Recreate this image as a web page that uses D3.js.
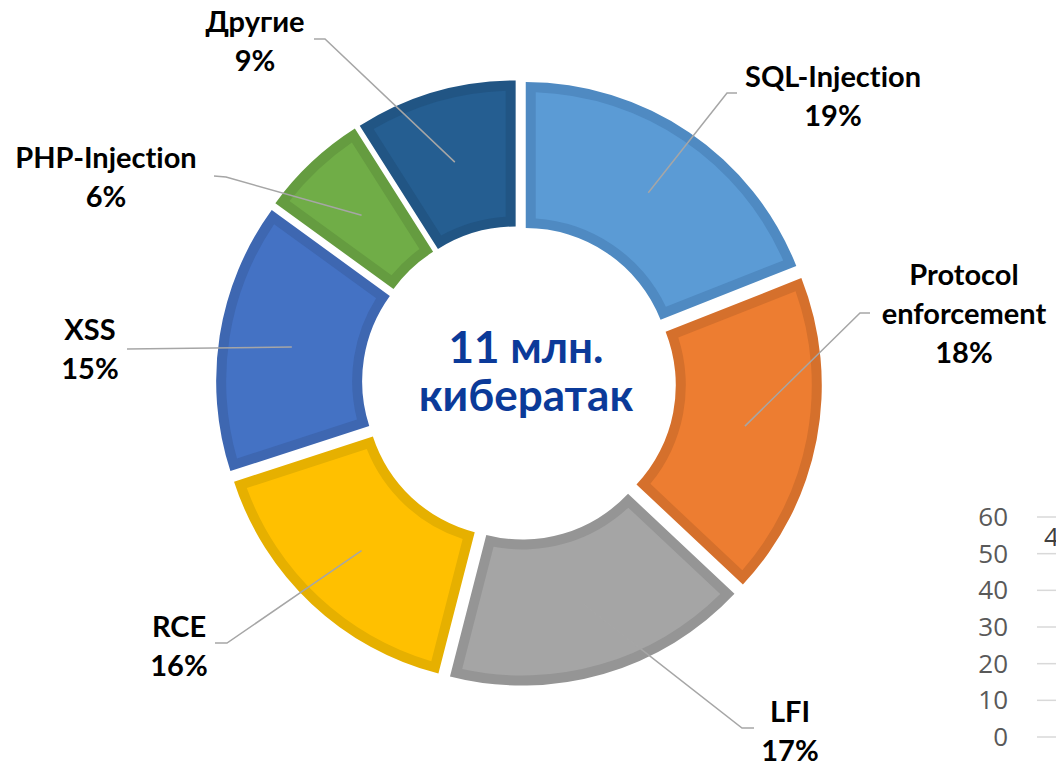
<!DOCTYPE html>
<html>
<head>
<meta charset="utf-8">
<script src="https://cdnjs.cloudflare.com/ajax/libs/d3/7.8.5/d3.min.js"></script>
<style>
  html, body { margin: 0; padding: 0; background: #fff; overflow: hidden; }
  svg { display: block; }
  text { font-variant-ligatures: none; }
  .lbl { font-family: Lato, "Open Sans", sans-serif; font-weight: bold; font-size: 29px; fill: #000; }
  .tick-lbl { font-family: "Open Sans", sans-serif; font-size: 26px; fill: #595959; }
</style>
</head>
<body>
<svg id="chart" width="1056" height="767"></svg>
<script>
// data, clockwise from 12 o'clock
const categories = ["SQL-Injection", "Protocol enforcement", "LFI", "RCE", "XSS", "PHP-Injection", "Другие"];
const shares = [19, 18, 17, 16, 15, 6, 9];
const fill_colors = ["#5B9BD5", "#ED7D31", "#A5A5A5", "#FFC000", "#4472C4", "#70AD47", "#255E91"];
const border_colors = ["#4F8AC2", "#D5702C", "#959595", "#E6B000", "#3E67B1", "#659C40", "#215584"];
const center_lines = ["11 млн.", "кибератак"];

// the partially visible neighbour chart on the right
const side_ticks = [0, 10, 20, 30, 40, 50, 60];

// label layout: text lines, text centre, leader elbow and leader end
const label_layout = [
  { lines: ["SQL-Injection", "19%"], x: 833, y: 77, elbow: [727, 93], end: [737, 93] },
  { lines: ["Protocol", "enforcement", "18%"], x: 964, y: 275, elbow: [860, 313], end: [870, 313] },
  { lines: ["LFI", "17%"], x: 790, y: 712, elbow: [742, 728], end: [754, 728] },
  { lines: ["RCE", "16%"], x: 179, y: 627, elbow: [227, 643], end: [215, 643] },
  { lines: ["XSS", "15%"], x: 90, y: 330, elbow: [127, 349], end: [127, 349] },
  { lines: ["PHP-Injection", "6%"], x: 106, y: 158, elbow: [226, 177], end: [214, 176] },
  { lines: ["Другие", "9%"], x: 255, y: 22, elbow: [325, 39], end: [314, 39] }
];

const CX = 519, CY = 383;
const R_OUT = 291, R_IN = 145, EXPLODE = 12, BORDER = 10;

let svg = d3.select("#chart");

let pie = d3.pie().sort(null).value(d => d)(shares);

let arc_outer = d3.arc().innerRadius(R_IN).outerRadius(R_OUT);
let arc_inner = d3.arc()
  .innerRadius(R_IN + BORDER)
  .outerRadius(R_OUT - BORDER)
  .padRadius(100)
  .padAngle(2 * BORDER / 100);

let donut = svg.append("g").attr("transform", `translate(${CX},${CY})`);

let slices = donut.selectAll("g.slice")
  .data(pie)
  .enter()
  .append("g")
  .attr("class", "slice")
  .attr("transform", (d) => {
    let a = (d.startAngle + d.endAngle) / 2;
    return `translate(${Math.sin(a) * EXPLODE},${-Math.cos(a) * EXPLODE})`;
  });

slices.append("path")
  .attr("d", arc_outer)
  .style("fill", (d, i) => border_colors[i]);

slices.append("path")
  .attr("d", arc_inner)
  .style("fill", (d, i) => fill_colors[i]);

// leader lines
let leaders = svg.append("g");
pie.forEach((d, i) => {
  let a = (d.startAngle + d.endAngle) / 2;
  let c = arc_outer.centroid(d);
  let sx = CX + c[0] + Math.sin(a) * EXPLODE;
  let sy = CY + c[1] - Math.cos(a) * EXPLODE;
  let lay = label_layout[i];
  leaders.append("polyline")
    .attr("points", `${sx},${sy} ${lay.elbow[0]},${lay.elbow[1]} ${lay.end[0]},${lay.end[1]}`)
    .style("fill", "none")
    .style("stroke", "#A6A6A6")
    .style("stroke-width", 1.5);
});

// labels
label_layout.forEach((lay) => {
  let t = svg.append("text")
    .attr("class", "lbl")
    .attr("text-anchor", "middle")
    .attr("x", lay.x)
    .attr("y", lay.y);
  lay.lines.forEach((line, k) => {
    t.append("tspan")
      .attr("x", lay.x)
      .attr("dy", k === 0 ? "0.35em" : 39)
      .text(line);
  });
});

// centre caption
let ct = svg.append("text")
  .attr("text-anchor", "middle")
  .style("font-family", "Lato, 'Open Sans', sans-serif")
  .style("font-weight", "bold")
  .style("font-size", "44px")
  .style("fill", "#0B3A99");
center_lines.forEach((line, k) => {
  ct.append("tspan")
    .attr("x", 526)
    .attr("y", 363 + k * 48)
    .text(line);
});

// neighbour chart axis, cropped by the window edge
let y = d3.scaleLinear().domain([0, 60]).range([737, 517]);
let side = svg.append("g");
side.selectAll("line.grid")
  .data(side_ticks)
  .enter()
  .append("line")
  .attr("class", "grid")
  .attr("x1", 1037)
  .attr("x2", 1056)
  .attr("y1", d => y(d))
  .attr("y2", d => y(d))
  .style("stroke", "#D9D9D9")
  .style("stroke-width", 1.5);
side.selectAll("text.tick-lbl")
  .data(side_ticks)
  .enter()
  .append("text")
  .attr("class", "tick-lbl")
  .attr("text-anchor", "end")
  .attr("x", 1008)
  .attr("y", d => y(d))
  .attr("dy", "0.35em")
  .text(d => d);
side.append("text")
  .attr("class", "tick-lbl")
  .attr("x", 1044)
  .attr("y", 546)
  .style("fill", "#404040")
  .text("4");
</script>
</body>
</html>
